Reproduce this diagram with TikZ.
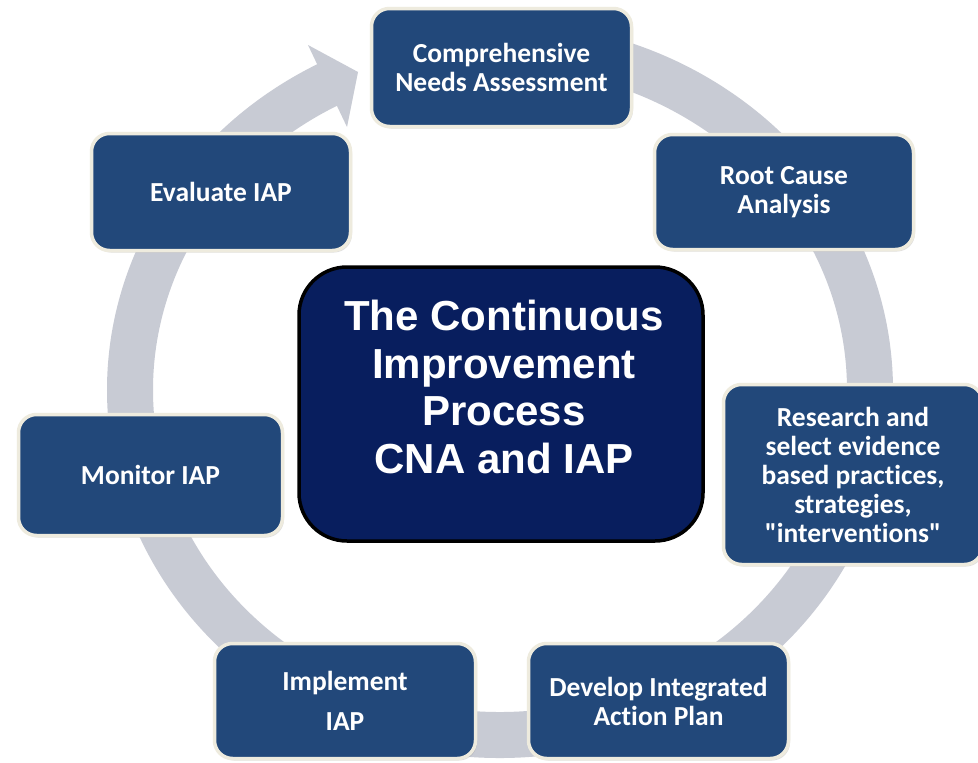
\documentclass[tikz,border=0pt]{standalone}
\usepackage{fontspec}
\setmainfont{Carlito}[Ligatures={TeXOff,NoCommon}]
\newfontfamily\arialfont{Liberation Sans}
\usetikzlibrary{shadows}
\definecolor{boxblue}{RGB}{34,72,122}
\definecolor{navy}{RGB}{8,30,94}
\definecolor{cream}{RGB}{238,235,222}
\definecolor{ringgray}{RGB}{200,203,212}
\begin{document}
\begin{tikzpicture}[x=1pt,y=-1pt,
  stepbox/.style={rectangle, rounded corners=18pt, draw=cream, line width=3.5pt,
    fill=boxblue, text=white, font=\bfseries\fontsize{27.5}{29}\selectfont,
    align=center, inner sep=0pt,
    drop shadow={shadow xshift=1.5pt, shadow yshift=-2pt, opacity=0.25}},
  corebox/.style={rectangle, rounded corners=48pt, draw=black, line width=3.5pt,
    fill=navy, inner sep=0pt},
  coretxt/.style={text=white, align=center, inner sep=0pt,
    font=\arialfont\bfseries\fontsize{42}{47.5}\selectfont}
  ]
\useasboundingbox (0,0) rectangle (978,763);
\fill[white] (0,0) rectangle (978,763);
% cycle ring
\draw[ringgray, line width=46pt] (500,390) ++(-95:370 and 345)
  arc[start angle=-95, end angle=242.5, x radius=370, y radius=345];
\fill[ringgray] (308,45) -- (358,72) -- (347,127) -- cycle;
% steps
\node[stepbox, minimum width=260pt, minimum height=118pt] (cna) at (501.5,67.5) {Comprehensive\\Needs Assessment};
\node[stepbox, minimum width=259pt, minimum height=115pt] (rca) at (784,192) {Root Cause\\Analysis};
\node[stepbox, minimum width=259pt, minimum height=180pt] (ebp) at (853,474.5) {Research and\\select evidence\\based practices,\\strategies,\\"interventions"};
\node[stepbox, minimum width=260pt, minimum height=115pt] (plan) at (658.5,701) {Develop Integrated\\Action Plan};
\node[stepbox, minimum width=261pt, minimum height=115pt] (impl) at (345,701) {Implement\\[11pt]IAP};
\node[stepbox, minimum width=264pt, minimum height=121pt] (mon) at (150.5,475) {Monitor IAP};
\node[stepbox, minimum width=259pt, minimum height=117pt] (eval) at (221,192) {Evaluate IAP};
% centre
\node[corebox, minimum width=404pt, minimum height=274pt] (core) at (501,404) {};
\node[coretxt] (coretext) at (504,387) {The Continuous\\Improvement\\Process\\CNA and IAP};
\end{tikzpicture}
\end{document}
